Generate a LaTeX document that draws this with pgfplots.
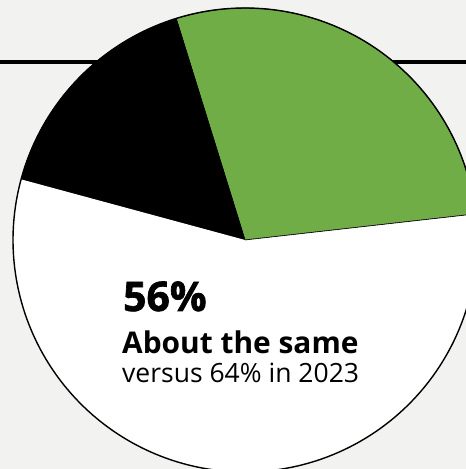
\documentclass[border=0pt]{standalone}
\usepackage{pgfplots}
\pgfplotsset{compat=1.18}
\usepackage{pgfplotstable}
\usepackage{fontspec}
\setmainfont{Open Sans}
\newfontfamily\heavy[BoldFeatures={FakeBold=1.6}]{Open Sans}
\definecolor{bgcol}{HTML}{F2F2F0}
\definecolor{greencol}{HTML}{70AD47}
\pgfplotstableread{
label value
Green 28
Black 16
White 56
}\pietable
\begin{document}
\begin{tikzpicture}
\pgfplotstablegetelem{0}{value}\of\pietable \let\vA\pgfplotsretval
\pgfplotstablegetelem{1}{value}\of\pietable \let\vB\pgfplotsretval
\pgfplotstablegetelem{2}{value}\of\pietable \let\vC\pgfplotsretval
\pgfmathsetmacro\aA{6.45}
\pgfmathsetmacro\aB{\aA+3.6*\vA}
\pgfmathsetmacro\aC{\aB+3.6*\vB}
\pgfmathsetmacro\aD{\aC+3.6*\vC}
\begin{axis}[
  width=466bp, height=469bp, scale only axis,
  xmin=0, xmax=466, ymin=0, ymax=469,
  hide axis, clip=true,
]
\addplot[fill=bgcol, draw=none] coordinates {(0,0) (466,0) (466,469) (0,469)} -- cycle;
\addplot[black, line width=3.4bp] coordinates {(0,407) (466,407)};
\addplot[fill=greencol, draw=black, line width=0.6bp, domain=\aA:\aB, samples=80] ({245+232*cos(x)},{229+232*sin(x)}) -- (axis cs:245,229) -- cycle;
\addplot[fill=black, draw=black, line width=0.6bp, domain=\aB:\aC, samples=80] ({245+232*cos(x)},{229+232*sin(x)}) -- (axis cs:245,229) -- cycle;
\addplot[fill=white, draw=none, domain=\aC:\aD, samples=120] ({245+232*cos(x)},{229+232*sin(x)}) -- (axis cs:245,229) -- cycle;
\addplot[draw=black, line width=0.6bp] coordinates {(245,229) (475,255)};
\addplot[black, line width=1.4bp, domain=0:360, samples=240] ({245+232*cos(x)},{229+232*sin(x)});
\node[anchor=base west, inner sep=0pt, font=\fontsize{41}{44}\heavy\bfseries] at (axis cs:123,158) {56\%};
\node[anchor=base west, inner sep=0pt, font=\fontsize{30}{34}\selectfont\bfseries] at (axis cs:122,115) {About the same};
\node[anchor=base west, inner sep=0pt, font=\fontsize{26.6}{30}\selectfont] at (axis cs:122,86) {versus 64\% in 2023};
\end{axis}
\end{tikzpicture}
\end{document}
